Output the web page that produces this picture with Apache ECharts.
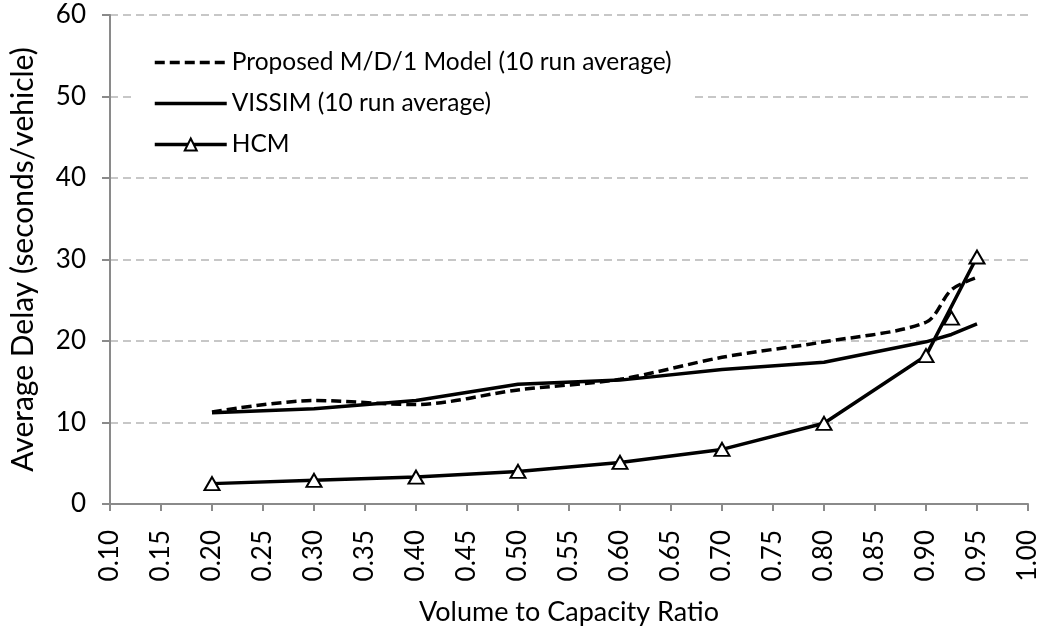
<!DOCTYPE html>
<html>
<head>
<meta charset="utf-8">
<script src="https://cdn.jsdelivr.net/npm/echarts@6/dist/echarts.min.js"></script>
<style>
  html, body { margin: 0; padding: 0; background: #fff; }
  #chart { width: 1045px; height: 639px; }
</style>
</head>
<body>
<div id="chart"></div>
<script>
// Volume-to-capacity ratios at which each delay was evaluated
const vcRatio = [0.2, 0.3, 0.4, 0.5, 0.6, 0.7, 0.8, 0.9, 0.925, 0.95];

// Average delay (seconds/vehicle)
const proposedDelay = [11.3, 12.7, 12.2, 14.0, 15.3, 18.0, 19.9, 22.3, 26.3, 27.8];
const vissimDelay   = [11.2, 11.7, 12.7, 14.7, 15.2, 16.5, 17.4, 19.9, 20.8, 22.1];

// HCM: the connecting line skips the 0.925 point, which is shown as a marker only
const hcmRatio = [0.2, 0.3, 0.4, 0.5, 0.6, 0.7, 0.8, 0.9, 0.95];
const hcmDelay = [2.5, 2.9, 3.3, 4.0, 5.1, 6.7, 9.9, 18.2, 30.3];
const hcmMarkerRatio = [0.925];
const hcmMarkerDelay = [22.8];

// Axis settings
const xMin = 0.10, xMax = 1.00, xStep = 0.05;
const yMin = 0, yMax = 60, yStep = 10;

const seriesNames = ['Proposed M/D/1 Model (10 run average)', 'VISSIM (10 run average)', 'HCM'];

const pairs = (xs, ys) => xs.map((x, i) => [x, ys[i]]);

const FONT = 'Lato';
const axisGrey = '#8a8a8a';
const LINE_W = 3.5;

const chart = echarts.init(document.getElementById('chart'), null, { renderer: 'canvas' });

chart.setOption({
  backgroundColor: '#ffffff',
  animation: false,
  textStyle: { fontFamily: FONT, color: '#000' },
  grid: { left: 108, right: 17, top: 15, bottom: 135, containLabel: false },
  legend: {
    data: [
      { name: seriesNames[0], itemStyle: { opacity: 0 } },
      { name: seriesNames[1], itemStyle: { opacity: 0 } },
      { name: seriesNames[2] }
    ],
    orient: 'vertical',
    left: 131,
    top: 40,
    padding: [10, 20, 12, 22],
    backgroundColor: '#ffffff',
    itemWidth: 72,
    itemHeight: 15,
    itemGap: 16,
    lineStyle: { width: LINE_W },
    textStyle: { fontFamily: FONT, fontSize: 24.5, color: '#000' },
    selectedMode: false
  },
  xAxis: {
    type: 'value',
    min: xMin,
    max: xMax,
    interval: xStep,
    name: 'Volume to Capacity Ratio',
    nameLocation: 'middle',
    nameGap: 95,
    nameTextStyle: { fontFamily: FONT, fontSize: 27, color: '#000' },
    axisLine: { show: true, onZero: false, lineStyle: { color: axisGrey, width: 2 } },
    axisTick: { show: true, length: 7, lineStyle: { color: axisGrey, width: 2 } },
    axisLabel: {
      rotate: 90,
      margin: 26,
      fontFamily: FONT,
      fontSize: 26,
      color: '#000',
      formatter: v => v.toFixed(2)
    },
    splitLine: { show: false }
  },
  yAxis: {
    type: 'value',
    min: yMin,
    max: yMax,
    interval: yStep,
    name: 'Average Delay (seconds/vehicle)',
    nameLocation: 'middle',
    nameGap: 72,
    nameTextStyle: { fontFamily: FONT, fontSize: 30, color: '#000' },
    axisLine: { show: true, lineStyle: { color: axisGrey, width: 2 } },
    axisTick: { show: true, length: 8, lineStyle: { color: axisGrey, width: 2 } },
    axisLabel: { margin: 24, fontFamily: FONT, fontSize: 26, color: '#000' },
    splitLine: { show: true, lineStyle: { color: '#b5b5b5', width: 1.5, type: [8, 5] } }
  },
  series: [
    {
      name: seriesNames[0],
      type: 'line',
      data: pairs(vcRatio, proposedDelay),
      symbol: 'none',
      smooth: 0.3,
      lineStyle: { color: '#000', width: LINE_W, type: [10, 5] },
      itemStyle: { color: '#000' },
      z: 2
    },
    {
      name: seriesNames[1],
      type: 'line',
      data: pairs(vcRatio, vissimDelay),
      symbol: 'none',
      lineStyle: { color: '#000', width: LINE_W, type: 'solid' },
      itemStyle: { color: '#000' },
      z: 3
    },
    {
      name: seriesNames[2],
      type: 'line',
      data: pairs(hcmRatio, hcmDelay),
      symbol: 'triangle',
      symbolSize: [15, 13],
      showSymbol: true,
      lineStyle: { color: '#000', width: LINE_W },
      itemStyle: { color: '#fff', borderColor: '#000', borderWidth: 2 },
      z: 4
    },
    {
      name: 'HCM marker',
      type: 'scatter',
      data: pairs(hcmMarkerRatio, hcmMarkerDelay),
      symbol: 'triangle',
      symbolSize: [15, 13],
      itemStyle: { color: '#fff', borderColor: '#000', borderWidth: 2, opacity: 1 },
      z: 4
    }
  ]
});
</script>
</body>
</html>
